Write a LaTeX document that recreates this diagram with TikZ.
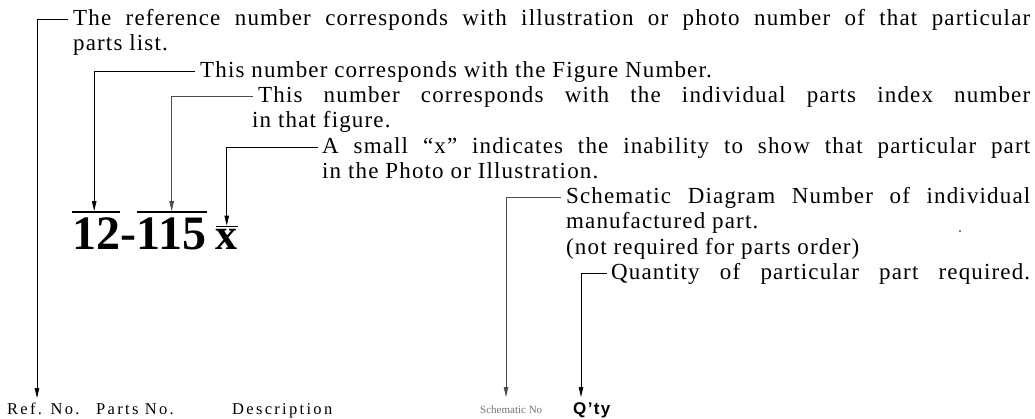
\documentclass[tikz,border=0pt]{standalone}
\usepackage{fontspec}
\setmainfont{Liberation Serif}
\newfontfamily\txtf[LetterSpace=5]{Liberation Serif}
\newfontfamily\labf[LetterSpace=14]{Liberation Serif}
\newfontfamily\numf{Liberation Serif}
\newfontfamily\qtyf[LetterSpace=8]{Liberation Sans}
\usetikzlibrary{arrows.meta}
\tikzset{
  txt/.style={anchor=base west, inner sep=0pt, font=\txtf\fontsize{23}{25}\selectfont},
  lab/.style={anchor=base west, inner sep=0pt, font=\labf\fontsize{16.5}{18}\selectfont},
  bignum/.style={anchor=base west, inner sep=0pt, font=\numf\bfseries\fontsize{48}{50}\selectfont},
  arr/.style={line width=0.8pt, -{Triangle[length=10pt,width=4.5pt]}},
  bar/.style={line width=2pt},
}
\begin{document}
\begin{tikzpicture}[x=1pt,y=-1pt]
\useasboundingbox (0,0) rectangle (1035,419);
% explanatory texts
\node[txt] (t1) at (73,26) {\makebox[957pt][s]{The reference number corresponds with illustration or photo number of that particular}};
\node[txt] (t2) at (73,51) {parts list.};
\node[txt] (t3) at (200,78) {This number corresponds with the Figure Number.};
\node[txt] (t4) at (258,103) {\makebox[772pt][s]{This number corresponds with the individual parts index number}};
\node[txt] (t5) at (252,128) {in that figure.};
\node[txt] (t6) at (322,154) {\makebox[708pt][s]{A small “x” indicates the inability to show that particular part}};
\node[txt] (t7) at (322,179) {in the Photo or Illustration.};
\node[txt] (t8) at (566,204) {\makebox[464pt][s]{Schematic Diagram Number of individual}};
\node[txt] (t9) at (566,229) {manufactured part.};
\node[txt] (t10) at (566,255) {(not required for parts order)};
\node[txt] (t11) at (611,280) {\makebox[419pt][s]{Quantity of particular part required.}};
\fill (960,231) circle (0.9pt);
% big number
\node[bignum] (n12) at (72,250) {12};
\node[bignum] (ndash) at (n12.base east) {-};
\node[bignum] (n115) at (ndash.base east) {115};
\node[bignum, font=\numf\bfseries\fontsize{44}{50}\selectfont] (nx) at ([xshift=9pt]n115.base east) {x};
\draw[bar] ([yshift=6pt]n12.north west) -- ([yshift=6pt]n12.north east);
\draw[bar] ([yshift=6pt]n115.north west) -- ([yshift=6pt]n115.north east);
\draw[line width=1.5pt] ([yshift=3pt]nx.north west) -- ([yshift=3pt]nx.north east);
\coordinate (o12) at ([xshift=-2pt,yshift=7pt]n12.north);
\coordinate (o115) at ([yshift=7pt]n115.north);
\coordinate (ox) at ([yshift=4pt]nx.north);
% column headings
\node[lab] (ref) at (7,414) {Ref. No.};
\node[lab] (parts) at (96,414) {Parts No.};
\node[lab] (desc) at (232,414) {Description};
\node[anchor=base west, inner sep=0pt, text=black!55, font=\fontsize{11}{12}\selectfont] (sch) at (480,413) {Schematic No};
\node[anchor=base west, inner sep=0pt, font=\qtyf\bfseries\fontsize{17}{18}\selectfont] (qty) at (573,414) {Q’ty};
\coordinate (tref) at (37,398);
\coordinate (tsch) at (506,397);
\coordinate (tqty) at (581,397);
% connectors
\draw[arr] ([xshift=-5pt,yshift=7pt]t1.base west) -| (tref);
\draw[arr] ([xshift=-5pt,yshift=7pt]t3.base west) -| (o12);
\draw[arr, black!70] ([xshift=-5pt,yshift=7pt]t4.base west) -| (o115);
\draw[arr] ([xshift=-4pt,yshift=7pt]t6.base west) -| (ox);
\draw[arr, black!70] ([xshift=-5pt,yshift=7pt]t8.base west) -| (tsch);
\draw[arr] ([xshift=-4pt,yshift=7pt]t11.base west) -| (tqty);
\end{tikzpicture}
\end{document}
